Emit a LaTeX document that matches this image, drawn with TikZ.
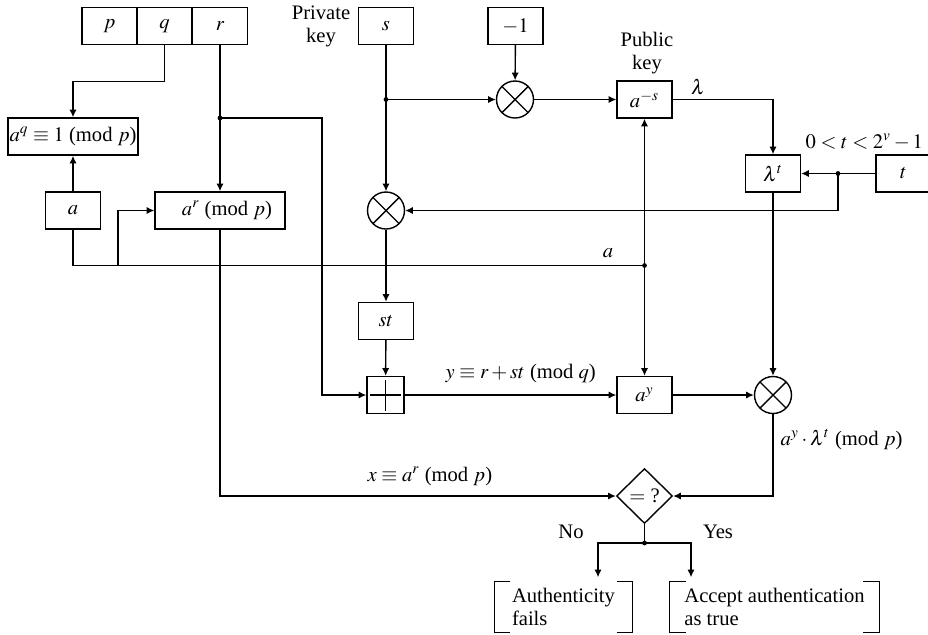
\documentclass[tikz,border=0pt]{standalone}
\usepackage{mathptmx}
\usepackage{fontspec}
\setmainfont{Liberation Serif}
\usepackage{tikz}
\usetikzlibrary{arrows.meta,calc,positioning,shapes.geometric}

\begin{document}
\begin{tikzpicture}[
    x=0.5pt, y=-0.5pt, line width=0.7pt,
    every node/.style={font=\fontsize{10.3pt}{11.5pt}\selectfont},
    box/.style={draw, minimum width=27.5pt, minimum height=18.5pt, inner sep=0pt},
    wbox/.style={box, minimum width=65pt},
    mult/.style={circle, draw, minimum size=18.5pt, inner sep=0pt,
        path picture={\draw (path picture bounding box.north west) -- (path picture bounding box.south east)
                            (path picture bounding box.north east) -- (path picture bounding box.south west);}},
    adder/.style={draw, minimum size=18.5pt, inner sep=0pt,
        path picture={\draw ([yshift=-1.5pt]path picture bounding box.north) -- ([yshift=1.5pt]path picture bounding box.south)
                            ([xshift=1.5pt]path picture bounding box.west) -- ([xshift=-1.5pt]path picture bounding box.east);}},
    test/.style={diamond, draw, minimum width=28pt, minimum height=27.5pt, inner sep=0pt},
    outcome/.style={align=left, inner xsep=7pt, inner ysep=2pt, minimum height=25pt},
    lbl/.style={inner sep=0pt},
    arr/.style={-{Latex[length=3.8pt,width=3.6pt]}}
]
\useasboundingbox (0,0) rectangle (928,634);

% key registers
\node[box] (p) at (109.5,26) {$p$};
\node[box] (q) at (164.5,26) {$q$};
\node[box] (r) at (220,26)   {$r$};
\node[box] (s) at (386,26)   {$s$};
\node[box] (neg) at (515.5,26) {$-1$};
\node[align=center] (priv) at (321,26) {Private\\key};
\node[align=center] (publ) at (647,53) {Public\\key};

\node[wbox] (cong) at (73,136.5) {$a^q \equiv 1$ (mod $p$)};
\node[box]  (a)    at (73,210.5) {$a$};
\node[wbox] (ar)   at (220,210.5) {\hspace{7pt}$a^r$ (mod $p$)};
\node[mult] (mulst)  at (386,210.5) {};
\node[mult] (mulneg) at (515,99.5) {};
\node[box]  (pub)  at (644.5,99.5) {$a^{-s}$};
\node[box]  (lt)   at (773,173.5) {$\lambda^t$};
\node[box]  (t)    at (903.5,173.5) {$t$};
\node[box]  (st)   at (386,321) {$st$};
\node[adder] (add) at (385.5,395) {};
\node[box]  (ay)   at (644.5,395) {$a^y$};
\node[mult] (mulay) at (773,395) {};
\node[test] (eq)   at (644.5,496) {$=$ ?};

\node[outcome, minimum width=68.5pt]  (fail) at (563.5,607) {Authenticity\\fails};
\node[outcome, minimum width=102.5pt] (acc)  at (774.5,607) {Accept authentication\\as true};

% branch points
\coordinate (rdot)  at (220,118);
\coordinate (rbend) at (322,118);
\coordinate (sdot)  at (386,99.5);
\coordinate (tdot)  at (838,173.5);
\coordinate (adot)  at (644.5,265.5);
\coordinate (abr)   at (118,265.5);
\coordinate (edot)  at (644.5,543);

\draw[arr] (q.south) -- ++(0,36) -| (cong.north);
\draw[arr] (a) -- (cong);
\draw[arr] (r) -- (ar);
\draw[arr] (rdot) -- (rbend) |- (add.west);
\draw (a.south) |- (adot);
\draw[arr] (abr) |- (ar.west);
\draw[arr] (adot) -- (pub.south);
\draw[arr] (adot) -- (ay.north);
\draw[arr] (ar.south) |- (eq.west);

\draw[arr] (s) -- (mulst);
\draw[arr] (sdot) -- (mulneg.west);
\draw[arr] (neg) -- (mulneg);
\draw[arr] (mulneg) -- (pub);
\draw[arr] (pub.east) -| (lt.north);
\draw[arr] (t) -- (lt);
\draw[arr] (tdot) |- (mulst.east);
\draw[arr] (mulst) -- (st);
\draw[arr] (st) -- (add);
\draw[arr] (add) -- (ay);
\draw[arr] (ay) -- (mulay);
\draw[arr] (lt) -- (mulay);
\draw[arr] (mulay.south) |- (eq.east);

% decision
\draw (eq.south) -- (edot);
\draw[arr, shorten >=2pt] (edot) -| ([xshift=17.25pt]fail.north);
\draw[arr, shorten >=2pt] (edot) -| ([xshift=-41.75pt]acc.north);
\foreach \n in {fail,acc}{
  \draw ([xshift=8pt]\n.north west) -| (\n.south west) -- ++(16,0);
  \draw ([xshift=-8pt]\n.north east) -| (\n.south east) -- ++(-16,0);
}

\foreach \c in {rdot,sdot,tdot,adot,edot} \fill (\c) circle (1.2pt);

% signal labels
\node[lbl, anchor=base] (lam) at (698,94) {$\lambda$};
\node[lbl, anchor=base west] (trange) at (805,148) {$0<t<2^v-1$};
\node[lbl, anchor=base] (alab) at (608,257) {$a$};
\node[lbl, anchor=base west] (ylab) at (445,378) {$y \equiv r+st$ (mod $q$)};
\node[lbl, anchor=base west] (xlab) at (367,481) {$x \equiv a^r$ (mod $p$)};
\node[lbl, anchor=base west] (prodlab) at (780,445) {$a^y\cdot\lambda^t$ (mod $p$)};
\node[lbl, anchor=base] (no)  at (571,538) {No};
\node[lbl, anchor=base] (yes) at (718,538) {Yes};
\end{tikzpicture}
\end{document}
